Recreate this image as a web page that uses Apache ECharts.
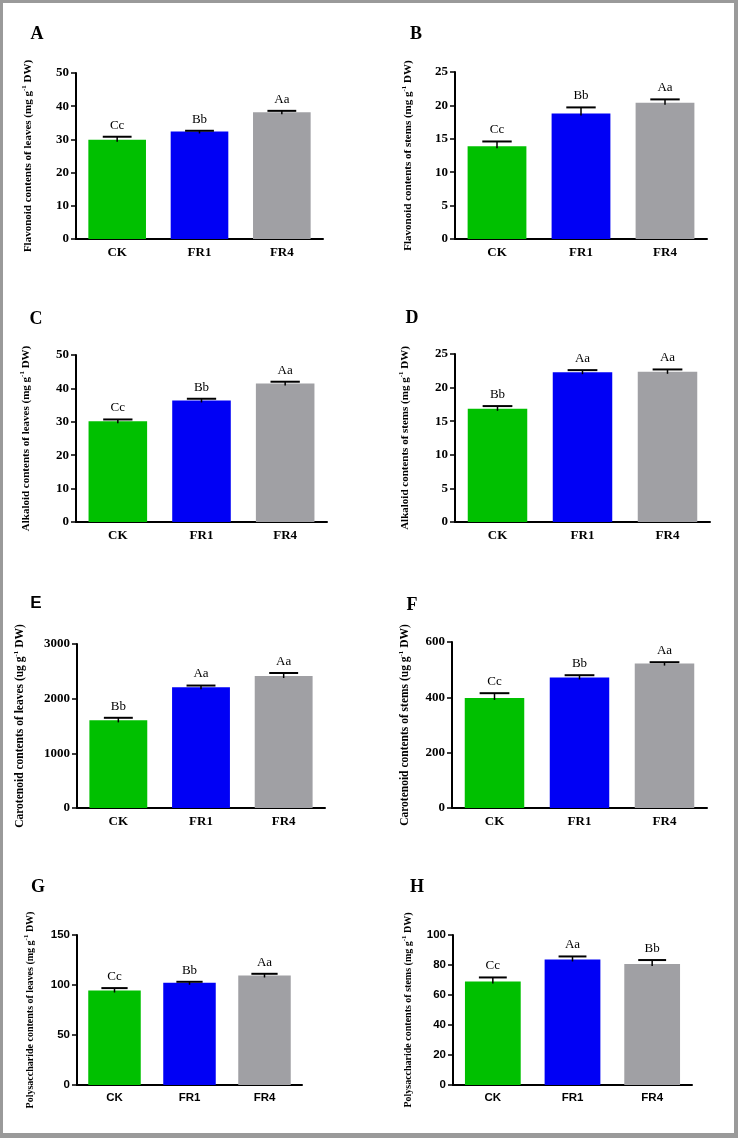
<!DOCTYPE html>
<html><head><meta charset="utf-8">
<script src="https://cdn.jsdelivr.net/npm/echarts@6/dist/echarts.min.js"></script>
<style>html,body{margin:0;padding:0;background:#fff}#c{width:738px;height:1138px}</style>
</head><body><div id="c"></div>
<script>
var categories = ['CK', 'FR1', 'FR4'];

var flavLeaves = [29.9, 32.4, 38.2];
var flavLeavesErr = [0.9, 0.2, 0.4];
var flavLeavesSig = ['Cc', 'Bb', 'Aa'];

var flavStems = [13.9, 18.8, 20.4];
var flavStemsErr = [0.7, 0.9, 0.5];
var flavStemsSig = ['Cc', 'Bb', 'Aa'];

var alkLeaves = [30.2, 36.4, 41.5];
var alkLeavesErr = [0.5, 0.5, 0.5];
var alkLeavesSig = ['Cc', 'Bb', 'Aa'];

var alkStems = [16.85, 22.3, 22.35];
var alkStemsErr = [0.4, 0.3, 0.35];
var alkStemsSig = ['Bb', 'Aa', 'Aa'];

var carLeaves = [1603, 2210, 2415];
var carLeavesErr = [47, 30, 55];
var carLeavesSig = ['Bb', 'Aa', 'Aa'];

var carStems = [398, 472, 522];
var carStemsErr = [17, 8, 5];
var carStemsSig = ['Cc', 'Bb', 'Aa'];

var polyLeaves = [94.5, 102.2, 109.5];
var polyLeavesErr = [2.4, 1.0, 1.7];
var polyLeavesSig = ['Cc', 'Bb', 'Aa'];

var polyStems = [69.0, 83.7, 80.6];
var polyStemsErr = [2.7, 2.0, 2.7];
var polyStemsSig = ['Cc', 'Aa', 'Bb'];

var panelLetters = ['A', 'B', 'C', 'D', 'E', 'F', 'G', 'H'];
var yNames = [
  ['Flavonoid contents of leaves (mg g', ' DW)'],
  ['Flavonoid contents of stems (mg g', ' DW)'],
  ['Alkaloid contents of leaves (mg g', ' DW)'],
  ['Alkaloid contents of stems (mg g', ' DW)'],
  ['Carotenoid contents of leaves (ug g', ' DW)'],
  ['Carotenoid contents of stems (ug g', ' DW)'],
  ['Polysaccharide contents of leaves (mg g', ' DW)'],
  ['Polysaccharide contents of stems (mg g', ' DW)']
];
var yMax = [50, 25, 50, 25, 3000, 600, 150, 100];
var yInterval = [10, 5, 10, 5, 1000, 200, 50, 20];

var panels = [
  {v: flavLeaves, e: flavLeavesErr, s: flavLeavesSig},
  {v: flavStems, e: flavStemsErr, s: flavStemsSig},
  {v: alkLeaves, e: alkLeavesErr, s: alkLeavesSig},
  {v: alkStems, e: alkStemsErr, s: alkStemsSig},
  {v: carLeaves, e: carLeavesErr, s: carLeavesSig},
  {v: carStems, e: carStemsErr, s: carStemsSig},
  {v: polyLeaves, e: polyLeavesErr, s: polyLeavesSig},
  {v: polyStems, e: polyStemsErr, s: polyStemsSig}
];

// layout (style only)
var grids = [
  {left: 76, top: 73, width: 247, height: 166},
  {left: 455, top: 72, width: 252, height: 167},
  {left: 76, top: 355, width: 251, height: 167},
  {left: 455, top: 354, width: 255, height: 168},
  {left: 77, top: 644, width: 248, height: 164},
  {left: 452, top: 642, width: 255, height: 166},
  {left: 77, top: 935, width: 225, height: 150},
  {left: 453, top: 935, width: 239, height: 150}
];
var nameGaps = [41, 40, 43, 43, 50, 40, 40, 38];
var nameSizes = [11, 11, 11, 11, 11.5, 11.5, 10, 10];
var letterPos = [[37, 34], [416, 34], [36, 319], [412, 318], [36, 603], [412, 605], [38, 887], [417, 887]];
var colors = ['#00C000', '#0000F5', '#A0A0A4'];
var SERIF = '"Liberation Serif","Times New Roman",serif';
var SANS = '"Liberation Sans",Arial,sans-serif';

var option = {
  animation: false,
  backgroundColor: '#fff',
  grid: [], xAxis: [], yAxis: [], series: [], graphic: []
};

panels.forEach(function (p, i) {
  var sansTicks = i >= 6;
  option.grid.push(Object.assign({containLabel: false}, grids[i]));
  option.xAxis.push({
    type: 'category', gridIndex: i, data: categories,
    axisLine: {lineStyle: {color: '#000', width: 2}},
    axisTick: {show: false},
    axisLabel: {color: '#000', fontWeight: 'bold', fontFamily: sansTicks ? SANS : SERIF,
      fontSize: sansTicks ? 11.5 : 13, margin: 7}
  });
  option.yAxis.push({
    type: 'value', gridIndex: i, min: 0, max: yMax[i], interval: yInterval[i],
    splitLine: {show: false},
    axisLine: {show: true, lineStyle: {color: '#000', width: 2}},
    axisTick: {show: true, length: 5, lineStyle: {color: '#000', width: 1.5}},
    axisLabel: {color: '#000', fontWeight: 'bold', fontFamily: sansTicks ? SANS : SERIF,
      fontSize: sansTicks ? 11.5 : 13, margin: 7,
      formatter: function (v) { return String(v); }},
    name: '{b|' + yNames[i][0] + '}{s|-1}{b|' + yNames[i][1] + '}',
    nameLocation: 'middle', nameGap: nameGaps[i], nameRotate: 90,
    nameTextStyle: {
      rich: {
        b: {fontFamily: SERIF, fontWeight: 'bold', fontSize: nameSizes[i], color: '#000', lineHeight: 14},
        s: {fontFamily: SERIF, fontWeight: 'bold', fontSize: 7, color: '#000', verticalAlign: 'top', lineHeight: 14}
      }
    }
  });
  option.series.push({
    type: 'bar', xAxisIndex: i, yAxisIndex: i, barWidth: '70%',
    data: p.v.map(function (v, k) { return {value: v, itemStyle: {color: colors[k]}}; }),
    z: 2
  });
  (function (sig) {
    option.series.push({
      type: 'custom', xAxisIndex: i, yAxisIndex: i, z: 5,
      data: p.v.map(function (v, k) { return [k, v, p.e[k]]; }),
      encode: {x: 0, y: 1},
      renderItem: function (params, api) {
        var k = api.value(0), v = api.value(1), e = api.value(2);
        var base = api.coord([k, v]);
        var top = api.coord([k, v + e]);
        var bw = api.size([1, 0])[0] * 0.7;
        var half = bw * 0.25;
        return {
          type: 'group',
          children: [
            {type: 'line', shape: {x1: base[0], y1: base[1] + 2, x2: top[0], y2: top[1]},
              style: {stroke: '#000', lineWidth: 1.5}},
            {type: 'line', shape: {x1: top[0] - half, y1: top[1], x2: top[0] + half, y2: top[1]},
              style: {stroke: '#000', lineWidth: 2}},
            {type: 'text', x: top[0], y: top[1] - 5,
              style: {text: sig[params.dataIndex], fill: '#000', fontFamily: SERIF, fontSize: 13,
                align: 'center', verticalAlign: 'bottom'}}
          ]
        };
      }
    });
  })(p.s);
  option.graphic.push({
    type: 'text', x: letterPos[i][0], y: letterPos[i][1],
    style: {text: panelLetters[i], fill: '#000', fontWeight: 'bold',
      fontFamily: i === 4 ? SANS : SERIF, fontSize: i === 4 ? 17 : 18,
      align: 'center', verticalAlign: 'middle'}
  });
});

// outer frame
var frame = '#9a9a9a';
option.graphic.push(
  {type: 'rect', shape: {x: 0, y: 0, width: 738, height: 3}, style: {fill: frame}, silent: true},
  {type: 'rect', shape: {x: 0, y: 0, width: 3, height: 1138}, style: {fill: frame}, silent: true},
  {type: 'rect', shape: {x: 734, y: 0, width: 4, height: 1138}, style: {fill: frame}, silent: true},
  {type: 'rect', shape: {x: 0, y: 1133, width: 738, height: 5}, style: {fill: frame}, silent: true}
);

var chart = echarts.init(document.getElementById('c'), null, {renderer: 'canvas'});
chart.setOption(option);
</script>
</body></html>
